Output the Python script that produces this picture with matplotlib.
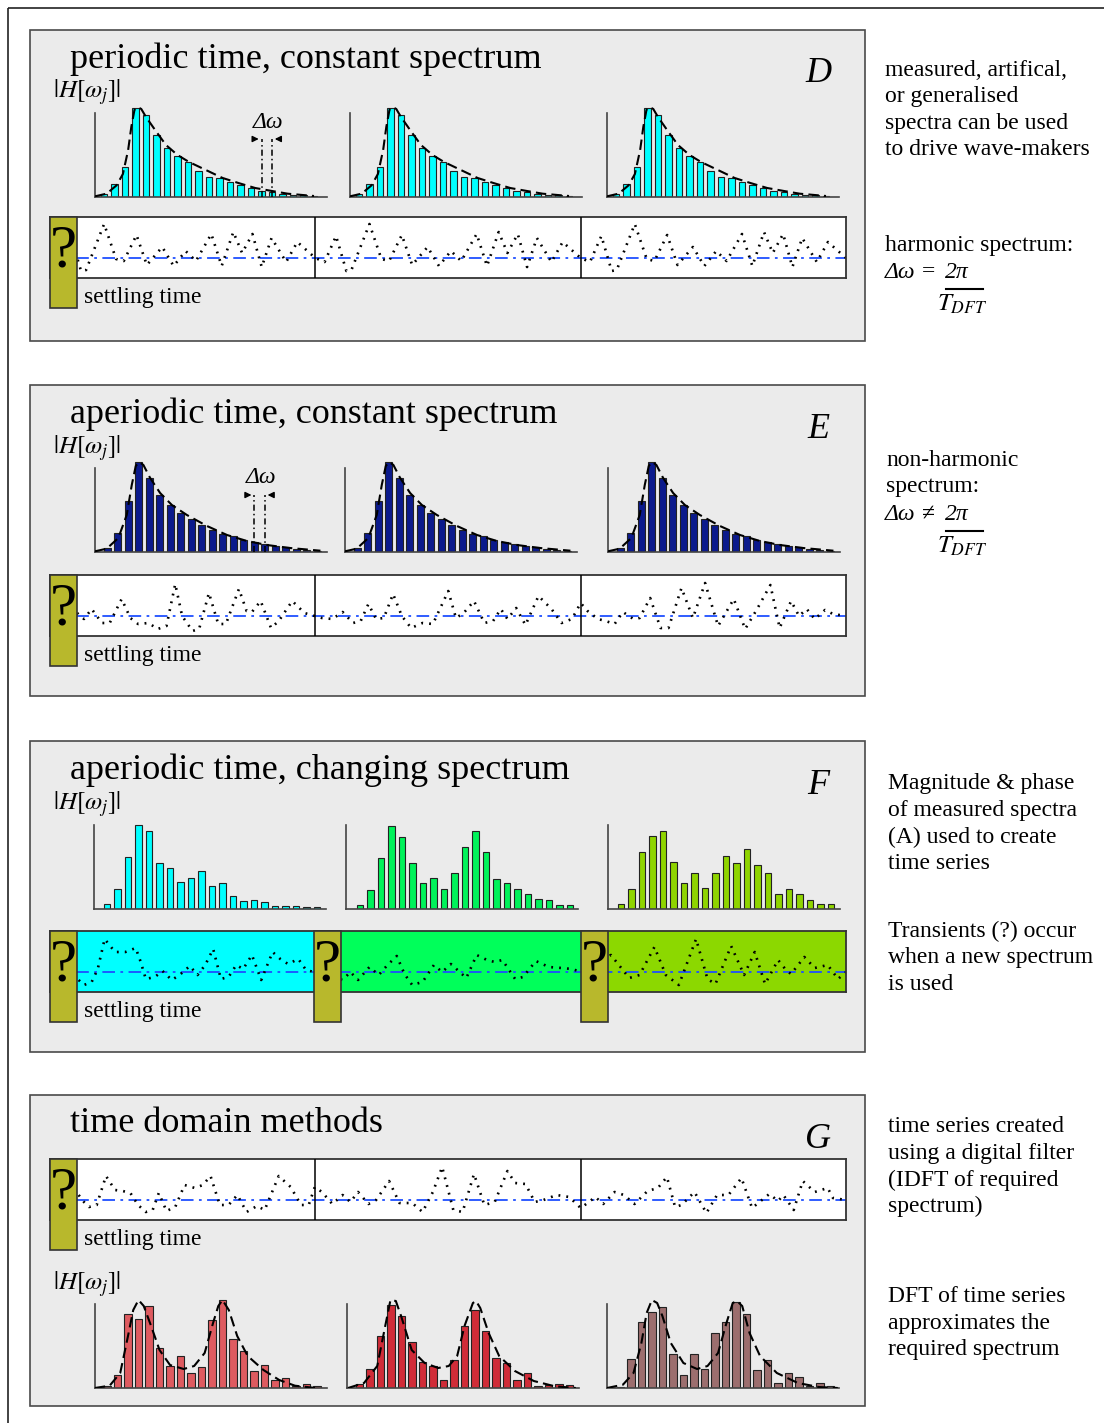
import matplotlib
matplotlib.use('Agg')
import matplotlib.pyplot as plt
import numpy as np
from matplotlib.patches import Rectangle

plt.rcParams['font.family'] = ['Liberation Serif', 'DejaVu Serif']
plt.rcParams['mathtext.fontset'] = 'stix'

W, H = 1104, 1423
SP = 10.5  # px per spectral line

# ---------------- data ----------------
TITLES = ['periodic time, constant spectrum', 'aperiodic time, constant spectrum',
          'aperiodic time, changing spectrum', 'time domain methods']
LETTERS = ['D', 'E', 'F', 'G']

# constant spectrum (panel D), bar heights and envelope
D_BARS = [3, 13, 30, 89, 82, 62, 49, 41, 35, 26, 20, 19, 15, 12, 9, 6, 5, 3, 2.3, 1.7, 1.3]
D_CF = [-0.85, 0.25, 1.2, 1.8, 2.3, 2.6, 2.9, 3.2, 3.55, 4.0, 5.0, 5.9, 7.0, 8.1, 9.7, 11.3,
        12.8, 14.4, 16.0, 17.5, 20.0]
D_CA = [0.7, 3.3, 11.7, 23, 47, 70, 87, 90, 88, 80, 65, 52, 42, 35, 27, 19, 14, 9, 6, 3.3, 1]

# constant spectrum (panel E)
E_BARS = [4, 19, 51, 90, 74, 57, 47, 39, 33, 27, 22, 18, 16, 12, 10, 8, 6, 5, 3.3, 2.3, 1.3]
E_CF = [-1.17, -0.06, 1.05, 1.85, 2.33, 2.71, 3.03, 3.44, 4.08, 5.03, 6.15, 7.58, 9.49, 11.4,
        13.3, 15.2, 17.4, 20.3]
E_CA = [0.7, 3.3, 14, 37, 67, 86, 90, 87, 74, 59, 47, 37, 26, 17, 11, 7, 4, 1.3]

# changing spectra (panel F)
F1_BARS = [4.7, 20, 52, 84, 78, 46, 41, 27, 31, 38, 23, 26, 13, 8, 9, 7, 3.3, 2.7, 3.3, 2.3, 2.3]
F2_BARS = [4.3, 19, 51, 83, 72, 46, 26, 31, 20, 36, 62, 78, 57, 30, 26, 20, 15, 10, 9, 4.3, 4.3]
F3_BARS = [4.7, 20, 57, 73, 78, 47, 26, 36, 21, 36, 53, 46, 60, 44, 36, 15, 20, 15, 9, 4.7, 4.7]

# DFT of filtered time series (panel G)
G1_BARS = [2.3, 13, 74, 69, 82, 40, 22, 32, 15, 21, 68, 88, 49, 37, 17, 23, 8, 10, 2, 4, 2]
G2_BARS = [4.3, 19, 52, 83, 72, 46, 26, 22, 8, 28, 62, 78, 57, 30, 25, 8, 15, 2.3, 3, 4.3, 2.7]
G3_BARS = [1, 29, 66, 76, 81, 34, 13, 34, 19, 55, 66, 86, 74, 18, 28, 5, 15, 11, 2.3, 5, 2.3]
G1_CF = [-1.16, 0.25, 1.26, 2.0, 2.5, 3.0, 3.5, 4.2, 5.0, 6.0, 7.3, 8.3, 9.3, 10.1, 10.6, 11.0,
         11.6, 12.4, 13.4, 14.9, 16.4, 17.9, 19.9]
G1_CA = [0, 2.3, 15, 52, 78, 88, 82, 62, 38, 23, 19, 22, 35, 65, 82, 88, 78, 52, 32, 18, 8, 2.3, 0]
G2_CF = [-1.09, 0.43, 1.69, 2.45, 2.95, 3.46, 3.96, 4.97, 6.2, 7.5, 8.5, 9.3, 10.0, 10.8, 11.1,
         11.5, 12.3, 13.3, 14.8, 16.6, 18.6, 20.6]
G2_CA = [0, 5, 22, 62, 88, 87, 72, 38, 25, 20, 22, 32, 62, 85, 87, 80, 55, 32, 17, 7, 1.7, 0]
G3_CF = [-1.28, 0.24, 1.25, 2.0, 2.5, 3.0, 3.5, 4.0, 4.8, 6.0, 7.3, 8.3, 9.3, 10.1, 10.7, 11.1,
         11.6, 12.3, 13.3, 14.9, 16.9, 18.9, 20.7]
G3_CA = [0, 3.3, 15, 45, 75, 88, 85, 72, 45, 25, 19, 22, 35, 65, 85, 87, 82, 55, 32, 15, 5, 1, 0]

# one period of the periodic time series (panel D)
PER_T = [0, 3.5, 7.8, 11.7, 13.6, 20.4, 24.9, 27.8, 32.6, 36.5, 42.3, 46.6, 51.1, 55.0, 60.8,
         64.7, 69.1, 72.4, 76.3, 79.8, 83.5, 89.0, 93.2, 100]
PER_V = [0, -4, 22, -13, -12, 34, -1, -3, 23, -7, 11, -8, 7, -3, 24, -8, 26, 5, 24, -9, 20, -4, 16, 0]

# aperiodic time series (panel E)
E_T = [10.2, 12.8, 15.7, 19.6, 22.5, 27.0, 30.3, 33.2, 37.1, 40.6, 43.9, 47.2, 49.8, 53.7, 56.2,
       59.9, 63.4, 66.3, 71.2, 74.1, 76.1, 79.4, 83.3, 86.2, 91.3, 95.9, 99.8,
       102.5, 106.4, 110.3, 114.2, 117.1, 120.0, 122.9, 125.8, 129.3, 132.6, 136.1, 140.4, 144.3,
       150.1, 153.0, 155.9, 159.8, 163.7, 167.0, 169.9, 172.4, 175.7, 179.2, 184.1, 189.0, 192.8,
       196.7, 200.0,
       202.6, 206.5, 209.4, 212.8, 215.9, 219.9, 222.2, 226.2, 230.1, 233.1, 238.0, 242.3, 246.9,
       251.8, 257.7, 262.0, 266.5, 271.5, 275.0, 279.3, 282.3, 285.2, 288.2, 292.1, 295.1, 300.0]
E_V = [3, -3, 7, -7, -7, 17, -2, -8, -7, -13, -10, 32, 0, -15, -13, 23, -8, -8, 27, 5, 4, 15,
       -12, -5, 15, 3, 0,
       -2, -3, 4, -7, -5, 12, -3, -2, 22, 0, -12, -7, -8, 25, -2, 3, 15, -7, -5, 7, -3, 8, -9,
       20, 7, -7, -3, 13,
       5, -3, -5, -8, 4, -3, -2, 18, -12, -12, 28, -2, 33, -10, 17, -13, 7, 31, -12, 15, 0, 7,
       -3, 6, 2, 0]

# time series from changing spectra (panel F)
F_T = [10.8, 12.8, 15.7, 18.0, 20.6, 24.5, 28.4, 32.3, 34.2, 36.1, 39.5, 42.4, 45.9, 48.8, 52.7,
       55.6, 58.5, 61.5, 64.4, 67.3, 70.2, 72.8, 76.1, 79.6, 83.9, 86.8, 89.7, 93.6, 96.5, 99.4,
       110.3, 113.2, 116.1, 120.4, 123.9, 127.2, 130.7, 133.6, 136.5, 140.4, 144.7, 147.8, 151.1,
       156.9, 160.8, 164.7, 167.6, 170.5, 175.3, 178.3, 183.1, 188.0, 192.8, 196.7, 200.2,
       211.4, 214.4, 218.3, 222.2, 227.8, 232.1, 237.0, 243.5, 247.8, 250.8, 256.7, 261.6, 265.6,
       269.5, 274.4, 277.4, 279.3, 284.3, 288.2, 293.1, 297.0, 300.0]
F_V = [-8, -13, -10, 3, 33, 20, 20, 24, 10, -7, -5, 1, -8, -3, 6, -3, 7, 23, -7, -5, 7, 3, 17,
       -8, 20, 13, 8, 13, 2, 0,
       -8, 0, -8, 5, -3, 7, 16, -2, -13, -10, 7, 0, 8, -6, 17, 12, 10, 12, -7, -5, 11, 5, 4, 3, 0,
       17, 7, -6, -3, 25, -3, -13, 33, -7, -12, 26, -3, 20, -12, 12, 2, -2, 15, 4, 7, -7, 0]

# time series from digital filter (panel G)
G_T = [10.8, 12.8, 14.7, 17.6, 21.1, 24.5, 27.4, 30.3, 33.2, 36.1, 38.7, 41.0, 43.9, 47.2, 50.7,
       54.6, 57.6, 60.5, 64.0, 67.3, 70.6, 74.1, 78.0, 80.9, 86.2, 90.7, 94.6, 97.5, 99.8,
       102.5, 106.4, 110.3, 113.2, 116.1, 120.0, 122.9, 127.8, 131.7, 136.5, 140.4, 144.3, 147.8,
       152.0, 155.5, 159.8, 163.7, 167.6, 172.4, 175.3, 179.2, 182.7, 186.0, 190.9, 195.7, 200.0,
       202.6, 205.5, 208.5, 212.8, 216.3, 220.3, 225.2, 229.1, 232.5, 235.6, 238.0, 242.9, 247.4,
       251.4, 255.7, 260.6, 264.6, 271.1, 274.4, 276.4, 280.3, 283.7, 288.2, 293.1, 295.1, 300.0]
G_V = [5, -2, -7, -5, 24, 10, 9, 7, -5, -12, -10, 7, -11, -7, 15, 12, 15, 24, -5, -5, 5, -12,
       -6, -10, 24, 13, -5, -5, 13,
       8, -4, 5, -2, 8, -4, 0, 19, -3, -3, -12, 8, 33, -10, -12, 26, -5, -2, 29, 17, 16, -2, 0,
       5, 3, -8,
       -3, 3, -4, 8, 5, -4, 9, 12, 23, -7, -5, 8, -13, 5, 5, 22, -8, 6, -1, 5, -10, 19, 8, 12,
       2, 0]

NOTES = [
    ['measured, artifical,', 'or generalised', 'spectra can be used', 'to drive wave-makers'],
    ['harmonic spectrum:'],
    ['non-harmonic', 'spectrum:'],
    ['Magnitude & phase', 'of measured spectra', '(A) used to create', 'time series'],
    ['Transients (?) occur', 'when a new spectrum', 'is used'],
    ['time series created', 'using a digital filter', '(IDFT of required', 'spectrum)'],
    ['DFT of time series', 'approximates the', 'required spectrum'],
]
NOTE_POS = [(885, 70), (885, 245), (886, 460), (888, 784), (888, 931), (888, 1127), (888, 1297)]

# ---------------- layout ----------------
fig = plt.figure(figsize=(W / 100, H / 100), dpi=100)


def px_axes(x0, y0, w, h, zorder=1):
    return fig.add_axes([x0 / W, 1 - (y0 + h) / H, w / W, h / H], zorder=zorder)


def bare(ax):
    ax.set_xticks([])
    ax.set_yticks([])


bg = px_axes(0, 0, W, H, zorder=0)
bg.set_xlim(0, W)
bg.set_ylim(H, 0)
bg.axis('off')
bg.add_patch(Rectangle((8, 8), W, H, fill=False, ec='#222222', lw=1.2))

panel_tops = [30, 385, 741, 1095]
for top, title, letter in zip(panel_tops, TITLES, LETTERS):
    bg.add_patch(Rectangle((30, top), 835, 311, fc='#ebebeb', ec='#4a4a4a', lw=1.2))
    bg.text(70, top + 29, title, fontsize=26, ha='left', va='center')
    bg.text(818, top + 44, letter, fontsize=26, style='italic', ha='center', va='center')

for y in [92, 448, 804, 1284]:
    bg.text(53, y, r'$|H[\omega_j]|$', fontsize=18, ha='left', va='center')

for lines, (x, y) in zip(NOTES, NOTE_POS):
    for k, line in enumerate(lines):
        bg.text(x, y + 26.5 * k, line, fontsize=17, ha='left', va='center')

# delta omega formulas
for y0, sign in [(272, '='), (514, '\u2260')]:
    bg.text(885, y0, '\u0394\u03c9', fontsize=17, style='italic', ha='left', va='center')
    bg.text(922, y0, sign, fontsize=17, ha='left', va='center')
    bg.text(945, y0, '2\u03c0', fontsize=17, style='italic', ha='left', va='center')
    bg.plot([946, 983], [y0 + 17, y0 + 17], color='black', lw=1.5)
    bg.text(937, y0 + 32, r'$T_{DFT}$', fontsize=18, ha='left', va='center')


def spectrum(left, base, heights, color, offset, width, cf=None, ca=None):
    ax = px_axes(left, base - 97, 232, 97, zorder=2)
    ax.set_xlim(-offset / SP, (232 - offset) / SP)
    ax.set_ylim(0, 97)
    ax.bar(np.arange(len(heights)), heights, width=width, color=color,
           edgecolor='#222222', linewidth=0.8, zorder=2)
    if cf is not None:
        ax.plot(cf, ca, color='black', ls=(0, (5, 2.5)), lw=1.5, zorder=3)
    ax.patch.set_visible(False)
    for s in ['top', 'right']:
        ax.spines[s].set_visible(False)
    for s in ['left', 'bottom']:
        ax.spines[s].set_color('#444444')
        ax.spines[s].set_linewidth(1.2)
    ax.spines['left'].set_bounds(0, 84)
    bare(ax)
    return ax


def delta_omega(ax, i, y_arrow):
    ax.vlines([i, i + 1], 0, y_arrow, colors='black', linestyles=(0, (4, 2, 1, 2)), lw=1.1, zorder=4)
    for tail, tip in [(i - 1.1, i), (i + 2.1, i + 1)]:
        ax.annotate('', xy=(tip, y_arrow), xytext=(tail, y_arrow),
                    arrowprops=dict(arrowstyle='-|>', color='black', lw=1, mutation_scale=9))
    ax.text(i + 0.6, y_arrow + 17, '\u0394\u03c9', fontsize=17, style='italic', ha='center', va='center')


# panel D
for k, left in enumerate([95, 350, 607]):
    ax = spectrum(left, 197, D_BARS, '#00ffff', 9, 0.62, D_CF, D_CA)
    if k == 0:
        delta_omega(ax, 15, 58)
# panel E
for k, left in enumerate([95, 345, 608]):
    ax = spectrum(left, 552, E_BARS, '#0b1a8c', 12.3, 0.66, E_CF, E_CA)
    if k == 0:
        delta_omega(ax, 14, 57)
# panel F
for left, bars, col, off in [(94, F1_BARS, '#00ffff', 13), (346, F2_BARS, '#00f25a', 14),
                             (608, F3_BARS, '#8fd400', 13)]:
    spectrum(left, 909, bars, col, off, 0.58)
# panel G
for left, bars, col, off, cf, ca in [(95, G1_BARS, '#de5b60', 12, G1_CF, G1_CA),
                                     (347, G2_BARS, '#d02c38', 12.5, G2_CF, G2_CA),
                                     (607, G3_BARS, '#9c6e6e', 13.4, G3_CF, G3_CA)]:
    spectrum(left, 1388, bars, col, off, 0.7, cf, ca)


def strip(top, t, v, spans, dividers=True):
    ax = px_axes(50, top, 796, 61, zorder=2)
    ax.set_xlim(0, 300)
    ax.set_ylim(-20, 41)
    for a, b, c in spans:
        ax.axvspan(a, b, color=c, zorder=0, lw=0)
    ax.axhline(0, color='#1f4fff', lw=1.3, ls=(0, (7, 3, 1.5, 3)), zorder=1)
    ax.plot(t, v, color='black', lw=1.9, ls=(0, (0.7, 2.3)), zorder=2)
    if dividers:
        for d in [100, 200]:
            ax.axvline(d, color='black', lw=1.1, zorder=3)
    for s in ax.spines.values():
        s.set_color('#333333')
        s.set_linewidth(1.3)
    bare(ax)
    return ax


per_t = np.concatenate([np.array(PER_T) + 100 * k for k in range(3)])
per_v = np.tile(PER_V, 3)
strip(217, per_t, per_v, [(0, 300, 'white')])
strip(575, E_T, E_V, [(0, 300, 'white')])
strip(931, F_T, F_V, [(0, 100, '#00ffff'), (100, 200, '#00ff5a'), (200, 300, '#8cd800')], dividers=False)
strip(1159, G_T, G_V, [(0, 300, 'white')])

# overlay: transient boxes
ov = px_axes(0, 0, W, H, zorder=5)
ov.set_xlim(0, W)
ov.set_ylim(H, 0)
ov.axis('off')


def qbox(x, top, h):
    ov.add_patch(Rectangle((x, top), 27, h, fc='#b8b82c', ec='#333333', lw=1.2))
    ov.text(x + 13.5, top + 35, '?', fontsize=44, ha='center', va='center')


for top in [217, 575, 1159]:
    qbox(50, top, 91)
    ov.text(84, top + 80, 'settling time', fontsize=17, ha='left', va='center')
for x in [50, 314, 581]:
    qbox(x, 931, 91)
ov.text(84, 1011, 'settling time', fontsize=17, ha='left', va='center')

fig.savefig('out.png', dpi=100)
